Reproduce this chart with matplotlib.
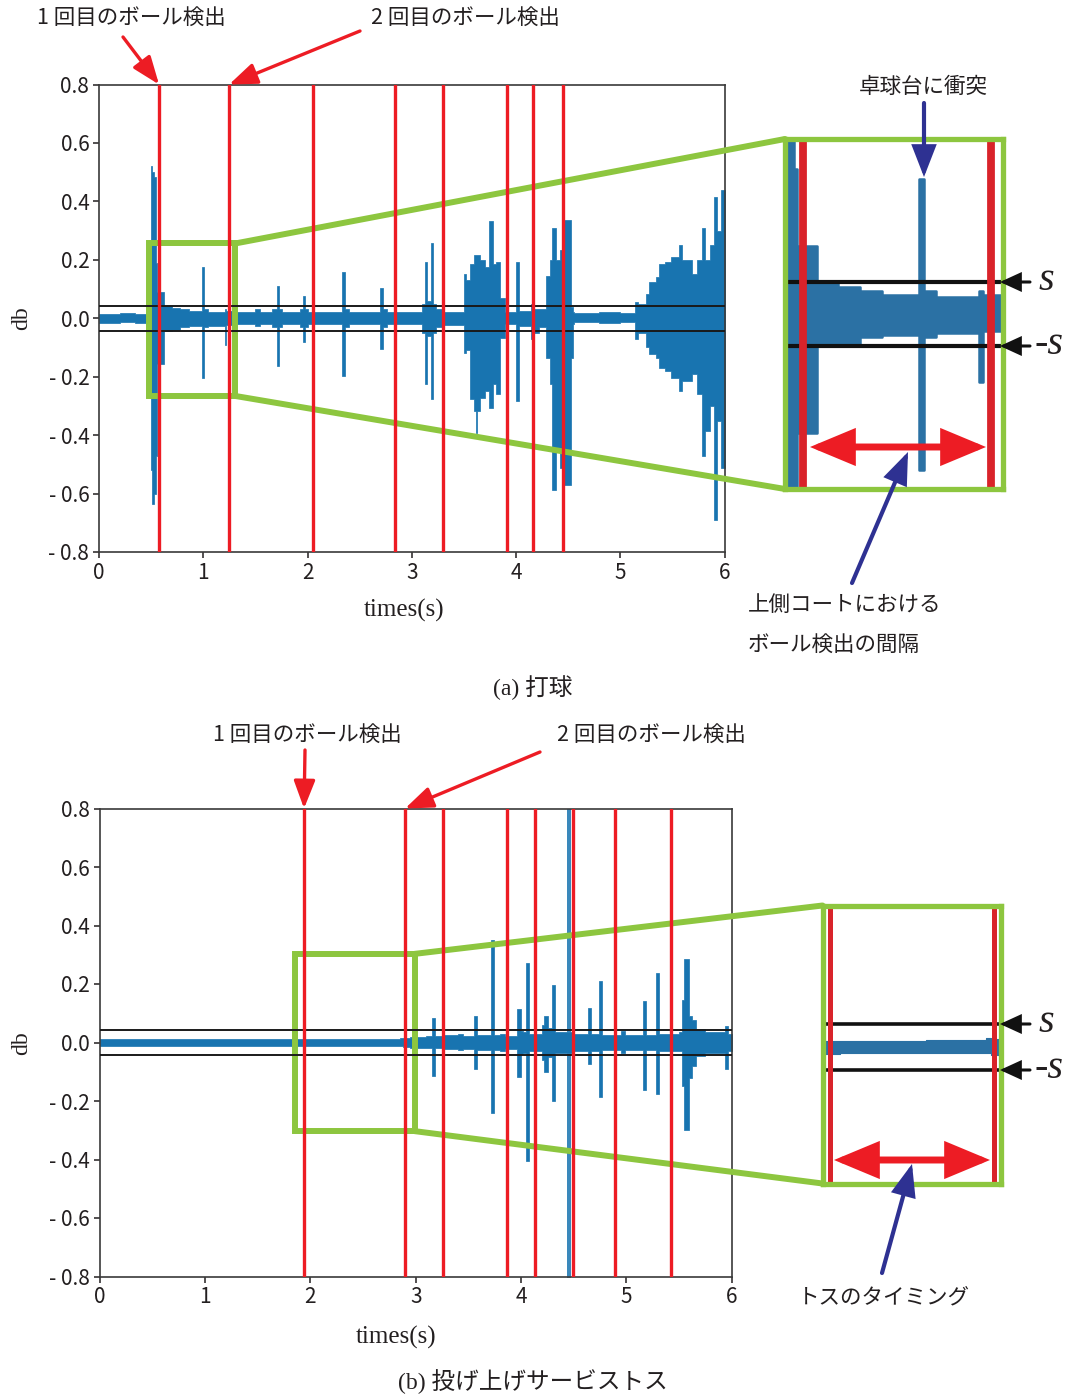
import numpy as np
import matplotlib
matplotlib.use('Agg')
import matplotlib.pyplot as plt
from matplotlib.patches import Rectangle, FancyArrowPatch, ConnectionPatch, ArrowStyle

# ---- data -------------------------------------------------------------------
# (a) 打球 : step envelope of the waveform  (time, upper, lower)
wave_a_t = [0.00, 0.20, 0.35, 0.495, 0.51, 0.53, 0.545, 0.555, 0.625, 0.70,
            0.78, 0.86, 0.99, 1.01, 1.05, 1.205, 1.22, 1.30, 1.50, 1.54,
            1.66, 1.705, 1.73, 1.76, 1.93, 1.955, 1.975, 2.00, 2.33, 2.355,
            2.40, 2.70, 2.725, 2.76, 2.95, 3.10, 3.125, 3.145, 3.18, 3.20,
            3.23, 3.30, 3.50, 3.52, 3.555, 3.60, 3.615, 3.63, 3.65, 3.70,
            3.745, 3.775, 3.81, 3.85, 3.89, 3.94, 4.00, 4.03, 4.14, 4.17,
            4.22, 4.29, 4.325, 4.35, 4.385, 4.42, 4.455, 4.53, 4.545, 4.56,
            4.80, 5.00, 5.14, 5.17, 5.25, 5.28, 5.34, 5.37, 5.43, 5.49,
            5.56, 5.59, 5.69, 5.74, 5.78, 5.815, 5.86, 5.895, 5.93, 5.965]
wave_a_hi = [0.015, 0.018, 0.016, 0.52, 0.50, 0.485, 0.19, 0.09, 0.042, 0.035,
             0.030, 0.025, 0.177, 0.030, 0.022, 0.030, 0.025, 0.020, 0.030, 0.020,
             0.030, 0.112, 0.030, 0.020, 0.030, 0.077, 0.030, 0.020, 0.158, 0.030,
             0.022, 0.103, 0.030, 0.020, 0.022, 0.050, 0.192, 0.060, 0.257, 0.050,
             0.030, 0.020, 0.150, 0.130, 0.187, 0.215, 0.215, 0.215, 0.198, 0.175,
             0.333, 0.187, 0.192, 0.070, 0.020, 0.020, 0.192, 0.025, 0.050, 0.030,
             0.030, 0.146, 0.198, 0.308, 0.198, 0.232, 0.335, 0.037, 0.020, 0.018,
             0.020, 0.018, 0.054, 0.050, 0.083, 0.123, 0.140, 0.187, 0.192, 0.209,
             0.250, 0.198, 0.152, 0.198, 0.310, 0.200, 0.250, 0.414, 0.300, 0.440]
wave_a_lo = [-0.015, -0.013, -0.016, -0.52, -0.637, -0.60, -0.47, -0.157, -0.042, -0.040,
             -0.030, -0.028, -0.205, -0.030, -0.025, -0.090, -0.022, -0.020, -0.025, -0.020,
             -0.030, -0.163, -0.030, -0.020, -0.030, -0.081, -0.030, -0.020, -0.198, -0.030,
             -0.020, -0.104, -0.030, -0.018, -0.020, -0.050, -0.226, -0.060, -0.277, -0.050,
             -0.030, -0.022, -0.120, -0.110, -0.277, -0.318, -0.393, -0.318, -0.272, -0.250,
             -0.307, -0.226, -0.260, -0.066, -0.020, -0.018, -0.284, -0.025, -0.070, -0.050,
             -0.030, -0.135, -0.226, -0.587, -0.444, -0.513, -0.570, -0.135, -0.020, -0.014,
             -0.015, -0.014, -0.070, -0.050, -0.100, -0.123, -0.135, -0.170, -0.180, -0.204,
             -0.250, -0.215, -0.190, -0.260, -0.473, -0.387, -0.300, -0.690, -0.350, -0.513]
detect_a = [0.576, 1.248, 2.05, 2.841, 3.298, 3.912, 4.161, 4.45]
thr_a = 0.042
zoom_a = (0.48, 1.308, -0.266, 0.256)      # green box x0, x1, y0, y1

# (b) 投げ上げサービストス
wave_b_t = [0.00, 0.50, 1.00, 1.50, 2.00, 2.50, 2.85, 2.88, 2.95, 3.10,
            3.155, 3.18, 3.25, 3.40, 3.45, 3.555, 3.585, 3.715, 3.745, 3.80,
            3.85, 3.965, 3.995, 4.02, 4.05, 4.08, 4.195, 4.22, 4.255, 4.295,
            4.32, 4.435, 4.445, 4.452, 4.462, 4.50, 4.64, 4.665, 4.74, 4.765,
            4.95, 4.985, 5.155, 5.185, 5.28, 5.31, 5.50, 5.525, 5.545, 5.59,
            5.62, 5.66, 5.75, 5.935, 5.965]
wave_b_hi = [0.012, 0.013, 0.012, 0.011, 0.012, 0.013, 0.017, 0.015, 0.020, 0.022,
             0.084, 0.022, 0.025, 0.030, 0.022, 0.090, 0.025, 0.352, 0.025, 0.030,
             0.022, 0.115, 0.040, 0.035, 0.272, 0.030, 0.060, 0.090, 0.050, 0.198,
             0.035, 0.85, 0.035, 0.85, 0.035, 0.030, 0.118, 0.030, 0.209, 0.025,
             0.040, 0.025, 0.141, 0.025, 0.238, 0.030, 0.035, 0.147, 0.286, 0.090,
             0.078, 0.045, 0.035, 0.056, 0.030]
wave_b_lo = [-0.012, -0.011, -0.012, -0.013, -0.012, -0.012, -0.012, -0.015, -0.020, -0.020,
             -0.113, -0.020, -0.022, -0.025, -0.022, -0.092, -0.025, -0.240, -0.025, -0.030,
             -0.022, -0.117, -0.040, -0.035, -0.405, -0.030, -0.060, -0.100, -0.050, -0.200,
             -0.035, -0.85, -0.035, -0.85, -0.035, -0.030, -0.075, -0.030, -0.185, -0.025,
             -0.035, -0.025, -0.163, -0.025, -0.177, -0.030, -0.030, -0.150, -0.300, -0.120,
             -0.080, -0.045, -0.035, -0.092, -0.030]
detect_b = [1.940, 2.899, 3.257, 3.868, 4.134, 4.492, 4.894, 5.425]
thr_b = 0.044
zoom_b = (1.855, 2.99, -0.303, 0.303)

yticks = [-0.8, -0.6, -0.4, -0.2, 0.0, 0.2, 0.4, 0.6, 0.8]
ytick_labels = ['- 0.8', '- 0.6', '- 0.4', '- 0.2', '0.0', '0.2', '0.4', '0.6', '0.8']
xticks = [0, 1, 2, 3, 4, 5, 6]

# ---- style ------------------------------------------------------------------
JP = ['Noto Sans CJK JP', 'DejaVu Sans']
SERIF = ['Liberation Serif', 'Noto Sans CJK JP']
plt.rcParams['font.family'] = JP

BLUE = '#1874b0'
BLUE_IN = '#2b71a4'
RED = '#ed1c24'
RED_IN = '#d9232a'
GREEN = '#8dc63f'
NAVY = '#2e3192'
INK = '#231f20'

W, H = 1072, 1398
fig = plt.figure(figsize=(W / 100, H / 100), dpi=100)


def P(x, y):
    # pixel position (top-left origin) -> figure fraction
    return (x / W, 1 - y / H)


def box(l, t, r, b):
    return [l / W, 1 - b / H, (r - l) / W, (b - t) / H]


def wave(ax, t, hi, lo, color, lw):
    tt = np.append(t, 6.0)
    up = np.append(hi, hi[-1])
    dn = np.append(lo, lo[-1])
    ax.fill_between(tt, dn, up, step='post', color=color, lw=lw, zorder=2)


def arrow(p0, p1, color, lw, hl, hw, style='-|>'):
    a = FancyArrowPatch(P(*p0), P(*p1), transform=fig.transFigure,
                        arrowstyle=ArrowStyle(style, head_length=hl, head_width=hw),
                        mutation_scale=1, color=color, lw=lw,
                        shrinkA=0, shrinkB=0, joinstyle='miter')
    fig.add_artist(a)


def main_panel(rect, t, hi, lo, detect, thr, zb):
    ax = fig.add_axes(rect)
    wave(ax, t, hi, lo, BLUE, 0.5)
    ax.set_xlim(0, 6)
    ax.set_ylim(-0.8, 0.8)
    ax.set_xticks(xticks)
    ax.set_yticks(yticks)
    ax.set_yticklabels(ytick_labels)
    ax.tick_params(direction='out', length=4, width=1.1, labelsize=15,
                   colors=INK, pad=3)
    for sp in ax.spines.values():
        sp.set_color('#3a3a3a')
        sp.set_linewidth(1.2)
    for s in (thr, -thr):
        ax.axhline(s, color='#1a1a1a', lw=1.4, zorder=4)
    for d in detect:
        ax.axvline(d, color=RED, lw=2.4, zorder=5)
    ax.add_patch(Rectangle((zb[0], zb[2]), zb[1] - zb[0], zb[3] - zb[2],
                           fill=False, ec=GREEN, lw=4.3, zorder=3,
                           joinstyle='miter'))
    return ax


def inset_panel(rect, xl, yl, t, hi, lo, detect, thr, red_lw, thr_lw, wave_lw):
    ins = fig.add_axes(rect)
    wave(ins, t, hi, lo, BLUE_IN, wave_lw)
    ins.set_xlim(*xl)
    ins.set_ylim(*yl)
    ins.set_xticks([])
    ins.set_yticks([])
    for sp in ins.spines.values():
        sp.set_color(GREEN)
        sp.set_linewidth(3.8)
        sp.set_zorder(10)
    for s in (thr, -thr):
        ins.axhline(s, color='#111111', lw=thr_lw, zorder=4)
    for d in detect:
        ins.axvline(d, color=RED_IN, lw=red_lw, zorder=5)
    return ins


def connect(ax, ins, zb):
    for ya, yb in ((zb[3], 1), (zb[2], 0)):
        con = ConnectionPatch(xyA=(zb[1], ya), coordsA=ax.transData,
                              xyB=(0, yb), coordsB=ins.transAxes,
                              color=GREEN, lw=4.3, zorder=3)
        con.set_clip_on(False)
        ax.add_artist(con)


# ---- (a) --------------------------------------------------------------------
ax_a = main_panel(box(99, 84.5, 724.5, 552), wave_a_t, wave_a_hi, wave_a_lo,
                  detect_a, thr_a, zoom_a)
ins_a = inset_panel(box(785, 139, 1003, 489), (0.512, 1.291), (-0.23, 0.23),
                    wave_a_t, wave_a_hi, wave_a_lo, detect_a, thr_a, 5.6, 3.0, 1.8)
connect(ax_a, ins_a, zoom_a)

# ---- (b) --------------------------------------------------------------------
ax_b = main_panel(box(99.7, 808.5, 731.7, 1276.5), wave_b_t, wave_b_hi, wave_b_lo,
                  detect_b, thr_b, zoom_b)
ins_b = inset_panel(box(822.5, 905.5, 1000.5, 1183.5), (1.896, 2.937), (-0.261, 0.271),
                    wave_b_t, wave_b_hi, wave_b_lo, detect_b, thr_b, 3.6, 2.6, 0.8)
connect(ax_b, ins_b, zoom_b)

# ---- annotations ------------------------------------------------------------
red_head = ArrowStyle('-|>', head_length=17, head_width=6.5)
for ax, d, start in ((ax_a, detect_a[0], (123, 37)), (ax_a, detect_a[1], (360, 31)),
                     (ax_b, detect_b[0], (305, 750)), (ax_b, detect_b[1], (540, 752))):
    ax.annotate('', xy=(d, 0.8), xycoords='data', xytext=P(*start),
                textcoords='figure fraction',
                arrowprops=dict(arrowstyle=red_head, color=RED, lw=2.4,
                                shrinkA=0, shrinkB=0, mutation_scale=1))

for txt, x, y in (('1 回目のボール検出', 131, 18), ('2 回目のボール検出', 465, 18),
                  ('1 回目のボール検出', 307, 735), ('2 回目のボール検出', 651, 735),
                  ('卓球台に衝突', 923, 87), ('トスのタイミング', 884, 1297)):
    fig.text(*P(x, y), txt, fontsize=15.5, color=INK, ha='center', va='center')
fig.text(*P(748, 605), '上側コートにおける', fontsize=15.5, color=INK, ha='left', va='center')
fig.text(*P(748, 645), 'ボール検出の間隔', fontsize=15.5, color=INK, ha='left', va='center')

# threshold markers s / -s
for y_s, y_ms in ((282, 346), (1024, 1070)):
    arrow((1030, y_s), (1000, y_s), '#111111', 2.2, 12, 5.5)
    arrow((1030, y_ms), (1000, y_ms), '#111111', 2.2, 12, 5.5)
    fig.text(*P(1046, y_s - 1), 's', fontsize=29, family=SERIF, style='italic',
             color=INK, ha='center', va='center')
    fig.text(*P(1049, y_ms - 1), '-s', fontsize=29, family=SERIF, style='italic',
             color=INK, ha='center', va='center')

# interval arrows
arrow((810, 447), (986, 447), RED, 5, 24, 10, '<|-|>')
arrow((834, 1160), (990, 1160), RED, 5, 24, 10, '<|-|>')
arrow((924, 103), (924, 177), NAVY, 3, 18, 7)
arrow((852, 583), (908, 452), NAVY, 3, 18, 7)
arrow((882, 1273), (912, 1164), NAVY, 3, 18, 7)

# axis labels and captions
fig.text(*P(404, 610), 'times(s)', fontsize=18, family=SERIF, color=INK,
         ha='center', va='center')
fig.text(*P(396, 1337), 'times(s)', fontsize=18, family=SERIF, color=INK,
         ha='center', va='center')
fig.text(*P(22, 318), 'db', fontsize=17, family=SERIF, color=INK,
         ha='center', va='center', rotation=90)
fig.text(*P(22, 1043), 'db', fontsize=17, family=SERIF, color=INK,
         ha='center', va='center', rotation=90)
fig.text(*P(533, 688), '(a) 打球', fontsize=17, family=SERIF, color=INK,
         ha='center', va='center')
fig.text(*P(533, 1382), '(b) 投げ上げサービストス', fontsize=17, family=SERIF,
         color=INK, ha='center', va='center')

fig.savefig('out.png', dpi=100)
